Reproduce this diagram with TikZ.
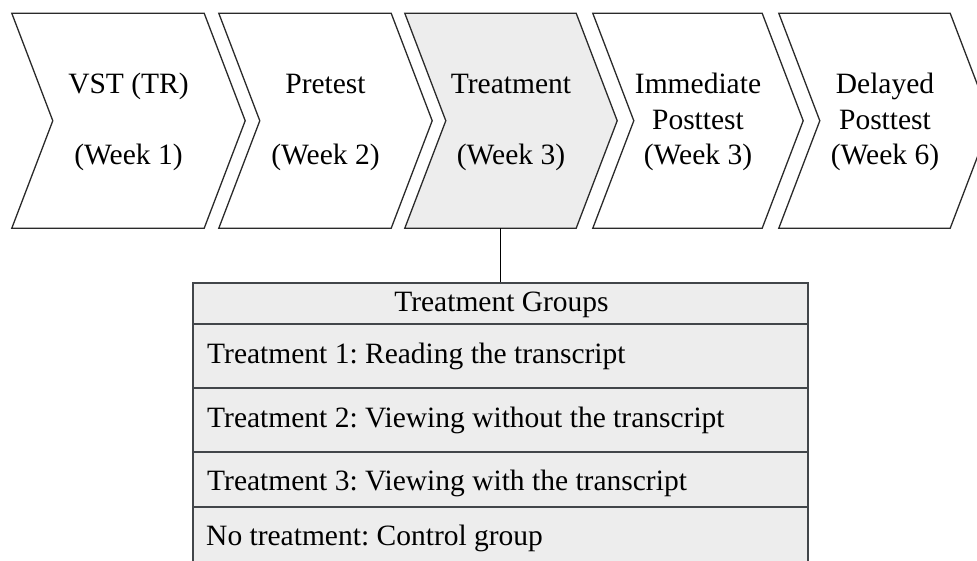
\documentclass[tikz,border=0pt]{standalone}
\usepackage{fontspec}
\setmainfont{Liberation Serif}
\usetikzlibrary{backgrounds}
\definecolor{tgray}{HTML}{EDEDED}
\definecolor{tline}{HTML}{42464A}
\definecolor{cline}{HTML}{2A2A2A}
\begin{document}
\frenchspacing
\begin{tikzpicture}[x=1pt,y=-1pt,
  chevbox/.style={inner sep=0pt, minimum height=214.5pt, align=center,
    font=\fontsize{29.5}{35.5}\selectfont},
  chevline/.style={draw=cline, line width=1.3pt, line join=miter},
  rowbox/.style={draw=tline, fill=tgray, line width=2pt, minimum width=615pt, inner sep=0pt},
  rowtext/.style={anchor=base west, inner sep=0pt, font=\fontsize{29.5}{35.5}\selectfont},
  link/.style={draw=black, line width=1.3pt}]
\useasboundingbox (0,0) rectangle (977,561);
\clip (0,0) rectangle (977,561);
% chevrons (bounding boxes, text)
\node[chevbox, minimum width=233pt] (c1) at (128.5,122) {VST (TR)\\~\\(Week 1)};
\node[chevbox, minimum width=213pt] (c2) at (325.5,122) {Pretest\\~\\(Week 2)};
\node[chevbox, minimum width=212pt] (c3) at (511,122) {Treatment\\~\\(Week 3)};
\node[chevbox, minimum width=210pt] (c4) at (698,122) {Immediate\\Posttest\\(Week 3)};
\node[chevbox, minimum width=212pt] (c5) at (885,122) {Delayed\\Posttest\\(Week 6)};
\begin{scope}[on background layer]
\foreach \n/\f in {c1/white,c2/white,c3/tgray,c4/white,c5/white}{
  \draw[chevline, fill=\f] ([yshift=1.25pt]\n.north west) -- ([xshift=-41pt,yshift=1.25pt]\n.north east) -- ([yshift=1.25pt]\n.east)
    -- ([xshift=-41pt,yshift=1.25pt]\n.south east) -- ([yshift=1.25pt]\n.south west) -- ([xshift=41pt,yshift=1.25pt]\n.west) -- cycle;
}
\end{scope}
% table
\node[rowbox, minimum height=41pt] (tg) at (500.5,303.5) {};
\node[rowbox, minimum height=64pt] (r1) at (500.5,356) {};
\node[rowbox, minimum height=64pt] (r2) at (500.5,420) {};
\node[rowbox, minimum height=55pt] (r3) at (500.5,479.5) {};
\node[rowbox, minimum height=93pt] (r4) at (500.5,553.5) {};
\node[anchor=base, inner sep=0pt, font=\fontsize{29.5}{35.5}\selectfont] (t0) at (501.5,312) {Treatment Groups};
\node[rowtext] (t1) at (207,363) {Treatment 1: Reading the transcript};
\node[rowtext] (t2) at (207,427) {Treatment 2: Viewing without the transcript};
\node[rowtext] (t3) at (207,490) {Treatment 3: Viewing with the transcript};
\node[rowtext] (t4) at (206,545) {No treatment: Control group};
% connector
\draw[link] ([yshift=1.25pt]c3.south -| tg.north) -- (tg.north);
\end{tikzpicture}
\end{document}
